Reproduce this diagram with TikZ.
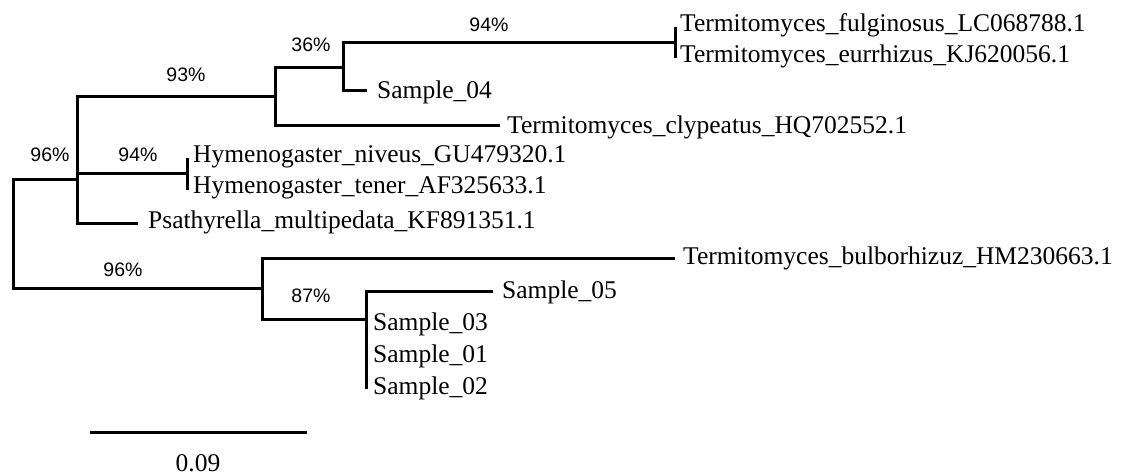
\documentclass[tikz,border=0pt]{standalone}
\usepackage{fontspec}
\setmainfont{Liberation Serif}
\newfontfamily\arialfont{Liberation Sans}
\begin{document}
\begin{tikzpicture}[x=1pt,y=-1pt,
  branch/.style={line width=3pt,line join=miter,black},
  taxon/.style={anchor=base west,inner sep=0pt,font=\fontsize{25.5}{26}\selectfont},
  boot/.style={anchor=center,inner sep=0pt,font=\arialfont\fontsize{19.5}{20}\selectfont},
  scalelab/.style={anchor=center,inner sep=0pt,font=\fontsize{25.5}{26}\selectfont}]
\useasboundingbox (0,0) rectangle (1128,475);
% internal nodes and branch ends
\coordinate (R) at (13,233);
\coordinate (nA) at (77,179);
\coordinate (nB) at (275,96);
\coordinate (nC) at (343,67);
\coordinate (tT) at (675,42);
\coordinate (tT1) at (675,27);
\coordinate (tT2) at (675,58);
\coordinate (s04) at (367,90);
\coordinate (cly) at (500,125);
\coordinate (nH) at (187,173);
\coordinate (nH1) at (187,158);
\coordinate (nH2) at (187,190);
\coordinate (psa) at (138,223);
\coordinate (nD) at (262,288);
\coordinate (bul) at (675,258);
\coordinate (nE) at (366,319);
\coordinate (s05) at (493,291);
\coordinate (eB) at (366,389);
\coordinate (sb1) at (90,432);
\coordinate (sb2) at (307,432);
% branches
\draw[branch] (R) |- (nA);
\draw[branch] (R) |- (nD);
\draw[branch] (nA) |- (nB);
\draw[branch] (nA) |- (nH);
\draw[branch] (nA) |- (psa);
\draw[branch] (nB) |- (nC);
\draw[branch] (nB) |- (cly);
\draw[branch] (nC) |- (tT);
\draw[branch] (nC) |- (s04);
\draw[branch] (tT1) -- (tT2);
\draw[branch] (nH1) -- (nH2);
\draw[branch] (nD) |- (bul);
\draw[branch] (nD) |- (nE);
\draw[branch] (nE) |- (s05);
\draw[branch] (nE) -- (eB);
\draw[branch] (sb1) -- (sb2);
% taxa
\node[taxon] (t1) at (680,31) {Termitomyces\_fulginosus\_LC068788.1};
\node[taxon] (t2) at (680,62) {Termitomyces\_eurrhizus\_KJ620056.1};
\node[taxon] (t3) at (377,98) {Sample\_04};
\node[taxon] (t4) at (507,133) {Termitomyces\_clypeatus\_HQ702552.1};
\node[taxon] (t5) at (193,162) {Hymenogaster\_niveus\_GU479320.1};
\node[taxon] (t6) at (193,193) {Hymenogaster\_tener\_AF325633.1};
\node[taxon] (t7) at (148,228) {Psathyrella\_multipedata\_KF891351.1};
\node[taxon] (t8) at (683,264) {Termitomyces\_bulborhizuz\_HM230663.1};
\node[taxon] (t9) at (502,298) {Sample\_05};
\node[taxon] (t10) at (373,330) {Sample\_03};
\node[taxon] (t11) at (373,362) {Sample\_01};
\node[taxon] (t12) at (373,394) {Sample\_02};
% bootstrap values
\node[boot] (b1) at (489,25) {94\%};
\node[boot] (b2) at (311,45) {36\%};
\node[boot] (b3) at (186,75) {93\%};
\node[boot] (b4) at (50,155) {96\%};
\node[boot] (b5) at (138,155) {94\%};
\node[boot] (b6) at (123,270) {96\%};
\node[boot] (b7) at (311,296) {87\%};
% scale
\node[scalelab] (sl) at (198,463) {0.09};
\end{tikzpicture}
\end{document}
